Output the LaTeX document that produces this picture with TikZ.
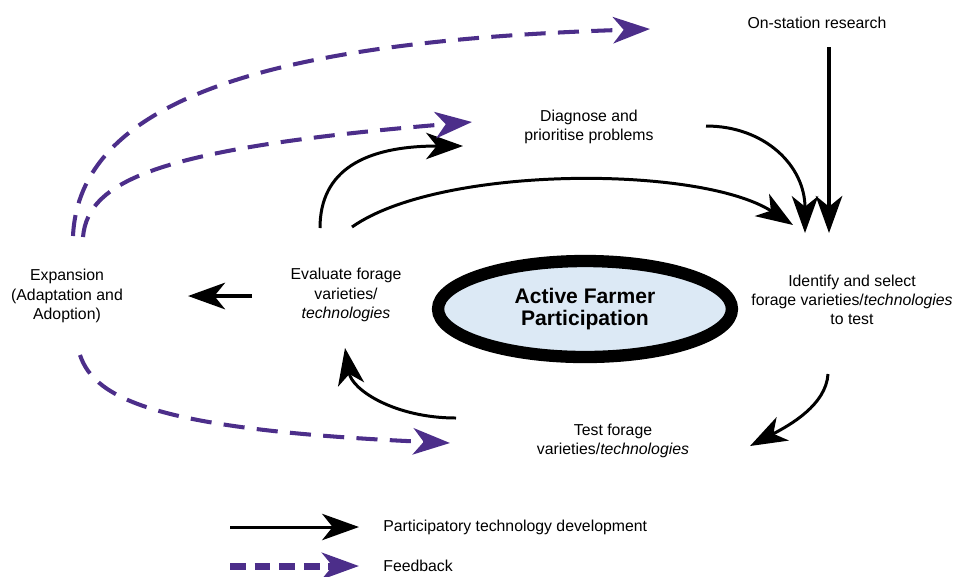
\documentclass[tikz,border=0pt]{standalone}
\usepackage{fontspec}
\setmainfont{Liberation Sans}
\usetikzlibrary{arrows.meta,calc,shapes.geometric}
\definecolor{fbpurple}{RGB}{76,46,138}
\definecolor{afpblue}{RGB}{220,233,245}

\begin{document}
\begin{tikzpicture}[x = 0.02cm, y = -0.02cm,
    lbl/.style = {align=center, inner sep=0pt, font=\fontsize{9}{11}\selectfont},
    ptd/.style = {line width=1.7pt, -{Stealth[length=21pt, width=15pt, inset=6pt]}},
    ptdthick/.style = {ptd, line width=2.8pt},
    fb/.style = {fbpurple, line width=2.3pt, dash pattern=on 12pt off 7pt, -{Stealth[length=21pt, width=15pt, inset=6pt]}}]
    \useasboundingbox (0,0) rectangle (955,576);

    \node[lbl] (ons) at (817,23) {On-station research};
    \node[lbl] (diag) at (589,127) {Diagnose and\\prioritise problems};
    \node[lbl] (iden) at (852,300) {Identify and select\\forage varieties/\textit{technologies}\\to test};
    \node[lbl] (test) at (613,441) {Test forage\\varieties/\textit{technologies}};
    \node[lbl] (eval) at (346,295) {Evaluate forage\\varieties/\\\textit{technologies}};
    \node[lbl] (expa) at (67,296) {Expansion\\(Adaptation and\\Adoption)};
    \node[ellipse, draw, line width=7pt, fill=afpblue, minimum width=5.88cm, minimum height=1.92cm,
        align=center, font=\fontsize{12}{13}\selectfont\bfseries] (afp) at (585,309) {Active Farmer\\Participation};

    % participatory technology development
    \draw[ptd] ($(eval)+(-26,-67)$) .. controls +(0,-58) and +(-98,0) .. ($(diag)+(-126,19)$);
    \draw[ptd] ($(eval)+(6,-68)$) .. controls +(88,-62) and +(-93,-60) .. ($(iden)+(-59,-75)$);
    \draw[ptd] ($(diag)+(117,-1)$) .. controls +(59,0) and +(0,-67) .. ($(iden)+(-47,-67)$);
    \draw[ptdthick] ($(ons)+(12,24)$) -- ($(iden)+(-23,-67)$);
    \draw[ptd] ($(iden)+(-24,74)$) .. controls +(-2,31) and +(40,-21) .. ($(test)+(137,5)$);
    \draw[ptd] ($(test)+(-157,-23)$) .. controls +(-61,0) and +(7,42) .. ($(eval)+(-1,53)$);
    \draw[ptdthick] ($(eval)+(-94,1)$) -- ($(expa)+(121,0)$);

    % feedback
    \draw[fb] ($(expa)+(6,-60)$) .. controls +(7,-146) and +(-350,11) .. ($(ons)+(-167,6)$);
    \draw[fb] ($(expa)+(16,-59)$) .. controls +(5,-57) and +(-312,26) .. ($(diag)+(-117,-5)$);
    \draw[fb] ($(expa)+(13,59)$) .. controls +(15,45) and +(-290,-13) .. ($(test)+(-163,2)$);

    % legend
    \node[lbl, anchor=west] (lptd) at (383,527) {Participatory technology development};
    \node[lbl, anchor=west] (lfb) at (383,566) {Feedback};
    \draw[ptd] ($(lptd.west)+(-153,0)$) -- ($(lptd.west)+(-24,0)$);
    \draw[fb, line width=4pt, dash pattern=on 9pt off 5pt] ($(lfb.west)+(-153,0)$) -- ($(lfb.west)+(-24,0)$);
\end{tikzpicture}
\end{document}
